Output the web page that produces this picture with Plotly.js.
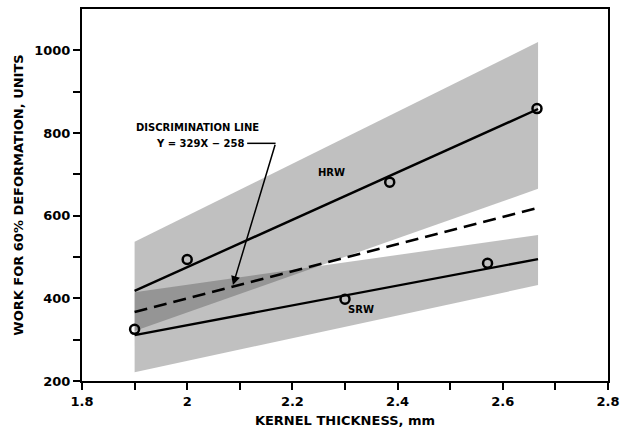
<!DOCTYPE html>
<html>
<head>
<meta charset="utf-8">
<script src="https://cdn.plot.ly/plotly-3.0.1.min.js"></script>
<style>html,body{margin:0;padding:0;background:#fff;}#chart{width:620px;height:430px;}</style>
</head>
<body>
<div id="chart"></div>
<script>
// Kernel thickness range covered by the fitted lines and shaded bands (mm)
const bandX = [1.9, 2.667];

// Shaded bands (work units at the ends of the band)
const hrwUpper = [537, 1020];
const hrwLower = [321, 665];
const srwUpper = [415, 553];
const srwLower = [221, 432];

// Regression lines
const hrwFit = [418, 858];
const srwFit = [311, 495];
// Discrimination line Y = 329X - 258
const discFit = [367, 619];

// Observed class means
const hrwX = [2.0, 2.385, 2.665];
const hrwY = [494, 681, 859];
const srwX = [1.9, 2.3, 2.571];
const srwY = [325, 398, 485];

const xTicks = [1.8, 2.0, 2.2, 2.4, 2.6, 2.8];
const xTickText = ['1.8', '2', '2.2', '2.4', '2.6', '2.8'];
const xMinor = [1.9, 2.1, 2.3, 2.5, 2.7];
const yTicks = [200, 400, 600, 800, 1000];
const yMinor = [300, 500, 700, 900];

const bandFill = 'rgba(60,60,60,0.32)';
function poly(xs, up, lo) {
  return {
    x: [xs[0], xs[1], xs[1], xs[0], xs[0]],
    y: [up[0], up[1], lo[1], lo[0], up[0]]
  };
}
const hP = poly(bandX, hrwUpper, hrwLower);
const sP = poly(bandX, srwUpper, srwLower);

const traces = [
  {x: hP.x, y: hP.y, type: 'scatter', mode: 'lines', fill: 'toself', fillcolor: bandFill,
   line: {width: 0}, hoverinfo: 'skip', showlegend: false},
  {x: sP.x, y: sP.y, type: 'scatter', mode: 'lines', fill: 'toself', fillcolor: bandFill,
   line: {width: 0}, hoverinfo: 'skip', showlegend: false},
  {x: bandX, y: hrwFit, type: 'scatter', mode: 'lines', line: {color: '#000', width: 2.4}, showlegend: false, name: 'HRW fit'},
  {x: bandX, y: srwFit, type: 'scatter', mode: 'lines', line: {color: '#000', width: 2.4}, showlegend: false, name: 'SRW fit'},
  {x: bandX, y: discFit, type: 'scatter', mode: 'lines', line: {color: '#000', width: 2.6, dash: '13px,7px'}, showlegend: false, name: 'Discrimination line'},
  {x: hrwX, y: hrwY, type: 'scatter', mode: 'markers', showlegend: false, name: 'HRW',
   marker: {symbol: 'circle-open', size: 9, color: '#000', line: {width: 2.5, color: '#000'}}},
  {x: srwX, y: srwY, type: 'scatter', mode: 'markers', showlegend: false, name: 'SRW',
   marker: {symbol: 'circle-open', size: 9, color: '#000', line: {width: 2.5, color: '#000'}}}
];

const fontFam = '"DejaVu Sans", "Liberation Sans", sans-serif';
const layout = {
  width: 620, height: 430,
  margin: {l: 82, r: 12, t: 9, b: 49},
  paper_bgcolor: '#fff', plot_bgcolor: '#fff',
  font: {family: fontFam, color: '#000', size: 13, weight: 'bold'},
  showlegend: false,
  xaxis: {
    range: [1.8, 2.8], tickvals: xTicks, ticktext: xTickText,
    ticks: 'outside', ticklen: 7, tickwidth: 2, tickcolor: '#000',
    showline: true, linewidth: 2, linecolor: '#000', mirror: true,
    showgrid: false, zeroline: false, automargin: false,
    tickfont: {family: fontFam, size: 13, weight: 'bold'},
    minor: {tickvals: xMinor, ticks: 'outside', ticklen: 7, tickwidth: 2, tickcolor: '#000', showgrid: false},
    title: {text: 'KERNEL THICKNESS, mm', standoff: 8, font: {family: fontFam, size: 13, weight: 'bold'}}
  },
  yaxis: {
    range: [200, 1100], tickvals: yTicks,
    ticks: 'outside', ticklen: 7, tickwidth: 2, tickcolor: '#000',
    showline: true, linewidth: 2, linecolor: '#000', mirror: true,
    showgrid: false, zeroline: false, automargin: false,
    tickfont: {family: fontFam, size: 13, weight: 'bold'},
    minor: {tickvals: yMinor, ticks: 'outside', ticklen: 7, tickwidth: 2, tickcolor: '#000', showgrid: false},
    title: {text: 'WORK FOR 60% DEFORMATION, UNITS', standoff: 8, font: {family: fontFam, size: 13, weight: 'bold'}}
  },
  shapes: [
    {type: 'line', xref: 'x', yref: 'y', x0: 2.114, y0: 775, x1: 2.168, y1: 775, line: {color: '#000', width: 1.5}}
  ],
  annotations: [
    {x: 2.02, y: 814, xref: 'x', yref: 'y', text: 'DISCRIMINATION LINE', showarrow: false,
     font: {family: fontFam, size: 10, weight: 'bold'}},
    {x: 2.112, y: 775, xref: 'x', yref: 'y', text: 'Y = 329X − 258', showarrow: false, xanchor: 'right',
     font: {family: fontFam, size: 10, weight: 'bold'}},
    {x: 2.087, y: 432, xref: 'x', yref: 'y', ax: 2.168, ay: 775, axref: 'x', ayref: 'y',
     text: '', showarrow: true, arrowhead: 2, arrowsize: 1.2, arrowwidth: 1.5, arrowcolor: '#000'},
    {x: 2.275, y: 705, xref: 'x', yref: 'y', text: 'HRW', showarrow: false,
     font: {family: fontFam, size: 10, weight: 'bold'}},
    {x: 2.33, y: 372, xref: 'x', yref: 'y', text: 'SRW', showarrow: false,
     font: {family: fontFam, size: 10, weight: 'bold'}}
  ]
};

Plotly.newPlot('chart', traces, layout, {staticPlot: true, displayModeBar: false});
</script>
</body>
</html>
